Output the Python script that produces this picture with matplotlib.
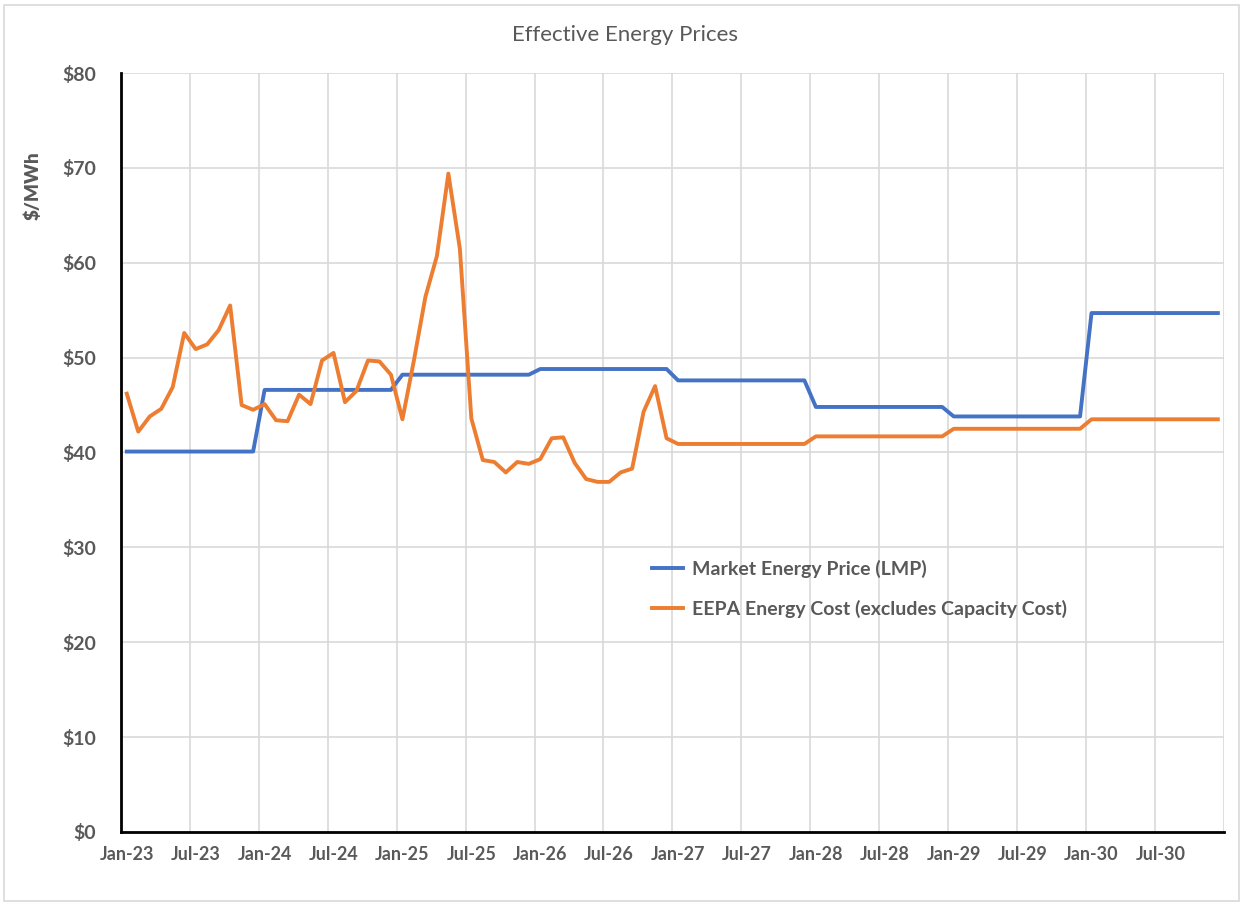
import numpy as np
import matplotlib.pyplot as plt
from matplotlib.patches import Rectangle

plt.rcParams['font.family'] = ['Lato', 'DejaVu Sans']

# monthly values, Jan-23 .. Dec-30
lmp = [40.1, 40.1, 40.1, 40.1, 40.1, 40.1, 40.1, 40.1, 40.1, 40.1, 40.1, 40.1,
       46.6, 46.6, 46.6, 46.6, 46.6, 46.6, 46.6, 46.6, 46.6, 46.6, 46.6, 46.6,
       48.2, 48.2, 48.2, 48.2, 48.2, 48.2, 48.2, 48.2, 48.2, 48.2, 48.2, 48.2,
       48.8, 48.8, 48.8, 48.8, 48.8, 48.8, 48.8, 48.8, 48.8, 48.8, 48.8, 48.8,
       47.6, 47.6, 47.6, 47.6, 47.6, 47.6, 47.6, 47.6, 47.6, 47.6, 47.6, 47.6,
       44.8, 44.8, 44.8, 44.8, 44.8, 44.8, 44.8, 44.8, 44.8, 44.8, 44.8, 44.8,
       43.8, 43.8, 43.8, 43.8, 43.8, 43.8, 43.8, 43.8, 43.8, 43.8, 43.8, 43.8,
       54.7, 54.7, 54.7, 54.7, 54.7, 54.7, 54.7, 54.7, 54.7, 54.7, 54.7, 54.7]

eepa = [46.2, 42.2, 43.8, 44.6, 46.9, 52.6, 50.9, 51.4, 52.9, 55.5, 45.0, 44.5,
        45.1, 43.4, 43.3, 46.1, 45.1, 49.7, 50.5, 45.3, 46.5, 49.7, 49.6, 48.2,
        43.5, 49.7, 56.4, 60.7, 69.4, 61.5, 43.6, 39.2, 39.0, 37.9, 39.0, 38.8,
        39.3, 41.5, 41.6, 38.9, 37.2, 36.9, 36.9, 37.9, 38.3, 44.3, 47.0, 41.5,
        40.9, 40.9, 40.9, 40.9, 40.9, 40.9, 40.9, 40.9, 40.9, 40.9, 40.9, 40.9,
        41.7, 41.7, 41.7, 41.7, 41.7, 41.7, 41.7, 41.7, 41.7, 41.7, 41.7, 41.7,
        42.5, 42.5, 42.5, 42.5, 42.5, 42.5, 42.5, 42.5, 42.5, 42.5, 42.5, 42.5,
        43.5, 43.5, 43.5, 43.5, 43.5, 43.5, 43.5, 43.5, 43.5, 43.5, 43.5, 43.5]

years = ['23', '24', '25', '26', '27', '28', '29', '30']
tick_labels = [m + '-' + y for y in years for m in ('Jan', 'Jul')]

months = np.arange(len(lmp))
grey = '#595959'

fig = plt.figure(figsize=(12.44, 9.05), dpi=100)
ax = fig.add_axes([0.0973, 0.0807, 0.8863, 0.8386])

ax.plot(months, lmp, color='#4472C4', lw=2.8, label='Market Energy Price (LMP)')
ax.plot(months, eepa, color='#ED7D31', lw=2.8, label='EEPA Energy Cost (excludes Capacity Cost)')

ax.set_xlim(-0.5, 95.5)
ax.set_ylim(0, 80)

# gridlines on half-year boundaries, labels in the month slot
ax.set_xticks(np.arange(-0.5, 96, 6))
ax.set_xticklabels([])
ax.set_xticks(np.arange(0, 96, 6), minor=True)
ax.set_xticklabels(tick_labels, minor=True)
ax.tick_params(axis='x', which='both', length=0)
ax.tick_params(axis='x', which='minor', pad=10, labelsize=13, labelcolor=grey)

ax.set_yticks(np.arange(0, 81, 10))
ax.set_yticklabels(['$%d' % v for v in range(0, 81, 10)])
ax.tick_params(axis='y', length=0, pad=18, labelsize=14, labelcolor=grey)
for lab in ax.get_xticklabels(minor=True) + ax.get_yticklabels():
    lab.set_fontweight('bold')

ax.grid(True, which='major', color='#d9d9d9', lw=1.2)
ax.set_axisbelow(True)
for s in ['top', 'right']:
    ax.spines[s].set_visible(False)
for s in ['left', 'bottom']:
    ax.spines[s].set_linewidth(2)
    ax.spines[s].set_color('black')

ax.set_ylabel('$/MWh', fontsize=13.5, fontweight='heavy', color=grey)
ax.yaxis.set_label_coords(-0.072, 0.852)

fig.text(0.5025, 0.961, 'Effective Energy Prices', ha='center', va='center',
         fontsize=16, color=grey)

leg = ax.legend(loc='upper left', bbox_to_anchor=(0.466, 0.382), frameon=False,
                handlelength=1.6, handletextpad=0.45, labelspacing=1.15,
                prop={'size': 14, 'weight': 'bold'})
for t in leg.get_texts():
    t.set_color(grey)

fig.patches.append(Rectangle((4 / 1244, 4 / 905), 1 - 9 / 1244, 1 - 9 / 905,
                             transform=fig.transFigure, fill=False,
                             edgecolor='#d9d9d9', lw=1.2))

fig.savefig('out.png', dpi=100)
